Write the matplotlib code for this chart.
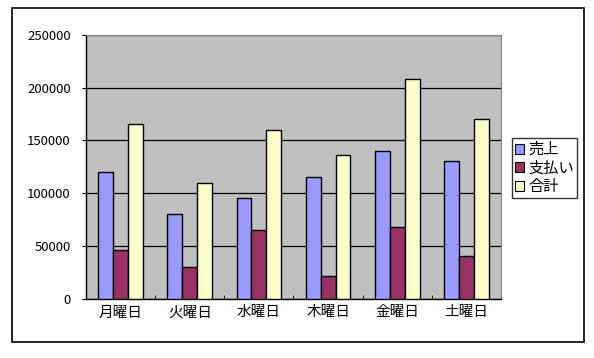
import matplotlib
matplotlib.use("Agg")
import matplotlib.pyplot as plt
import numpy as np
from matplotlib.patches import Rectangle

plt.rcParams['font.family'] = ['Noto Sans CJK JP', 'DejaVu Sans']

days = ['月曜日', '火曜日', '水曜日', '木曜日', '金曜日', '土曜日']
series_names = ['売上', '支払い', '合計']
sales = [120000, 80000, 95000, 115000, 140000, 130000]
payments = [46000, 30000, 65000, 21000, 68000, 40000]
totals = [166000, 110000, 160000, 136000, 208000, 170000]
colors = ['#9999FF', '#993366', '#FFFFCC']
yticks = [0, 50000, 100000, 150000, 200000, 250000]

fig = plt.figure(figsize=(5.94, 3.58), dpi=100)
fig.patch.set_facecolor('white')
# outer chart frame
fig.patches.append(Rectangle((12/594, 1-342/358), 572/594, 334/358,
                             transform=fig.transFigure, fill=False,
                             edgecolor='black', linewidth=1.2))

ax = fig.add_axes([86/594, 59.5/358, 415/594, 263.5/358])
ax.set_facecolor('#C0C0C0')

x = np.arange(len(days))
w = 0.215
for i, (vals, name, c) in enumerate(zip([sales, payments, totals], series_names, colors)):
    ax.bar(x + (i - 1) * w, vals, width=w, color=c, edgecolor='black',
           linewidth=1.0, label=name, zorder=3)

ax.set_xlim(-0.5, len(days) - 0.5)
ax.set_ylim(0, 250000)
ax.set_yticks(yticks)
ax.set_yticklabels([str(v) for v in yticks], fontsize=9.5)
ax.yaxis.grid(True, color='black', linewidth=0.9)
ax.set_axisbelow(True)

ax.set_xticks(x)
ax.set_xticklabels(days, fontsize=10.5)
ax.tick_params(axis='x', length=0, pad=5)
ax.set_xticks(np.arange(0.5, len(days) - 0.5, 1), minor=True)
ax.tick_params(axis='x', which='minor', direction='in', length=3, color='black')
ax.tick_params(axis='y', direction='out', length=3, pad=8, color='black')

for side in ['top', 'right']:
    ax.spines[side].set_color('#808080')
    ax.spines[side].set_linewidth(0.8)
for side in ['left', 'bottom']:
    ax.spines[side].set_color('black')
    ax.spines[side].set_linewidth(1.0)

leg = fig.legend(loc='upper left', bbox_to_anchor=(512/594, 1-138/358),
                 fontsize=11, frameon=True, fancybox=False, borderpad=0.2,
                 handlelength=0.6, handleheight=0.6, handletextpad=0.25,
                 labelspacing=0.1, borderaxespad=0)
leg.get_frame().set_edgecolor('black')
leg.get_frame().set_linewidth(1.0)
for p in leg.get_patches():
    p.set_linewidth(0.8)

fig.savefig('out.png', dpi=100)
